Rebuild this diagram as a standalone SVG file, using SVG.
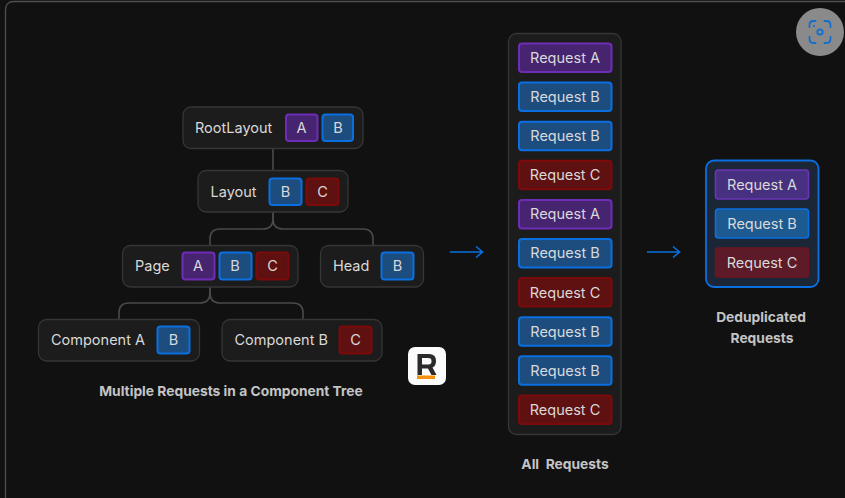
<svg xmlns="http://www.w3.org/2000/svg" width="845" height="498" viewBox="0 0 845 498">
<defs>
<style>
text{font-family:Inter,"Noto Sans","Liberation Sans",sans-serif;font-size:14.5px;fill:#d9d9d9}
.m{text-anchor:middle}
.cap{font-size:13.8px;font-weight:700;fill:#c4c4c4;text-anchor:middle}
.n{fill:#1c1c1c;stroke:#363636;stroke-width:1.3}
.a{fill:#47246f;stroke:#6f2cb8;stroke-width:2}
.b{fill:#1d4d7f;stroke:#0a6fe0;stroke-width:2}
.c{fill:#5f1010;stroke:#7d0a0a;stroke-width:2}
.wire{fill:none;stroke:#4a4a4a;stroke-width:1.6}
.arr{fill:none;stroke:#0a6fe0;stroke-width:1.6}
.da{fill:#46307f;stroke:#6b35b8;stroke-width:1.6}
.db{fill:#1e5a92;stroke:#0a6fe0;stroke-width:1.6}
.dc{fill:#5d1b2a;stroke:#6e1520;stroke-width:1.6}
</style>
</defs>
<rect width="845" height="498" fill="#111112"/>
<path d="M5.500 498V10Q5.500 1.500 14 1.500H845" fill="none" stroke="#4f4f4f" stroke-width="1.300"/>

<g id="connectors">
<path class="wire" d="M273 149V170"/>
<path class="wire" d="M273 212V219Q273 229 263 229H220Q210 229 210 239V245"/>
<path class="wire" d="M273 212V219Q273 229 283 229H363Q373 229 373 239V245"/>
<path class="wire" d="M210 287V293Q210 303 200 303H129Q119 303 119 313V319"/>
<path class="wire" d="M210 287V293Q210 303 220 303H293Q303 303 303 313V319"/>
<path class="arr" d="M450 252H482M476 246.500L482.500 252L476 257.500"/>
<path class="arr" d="M647 252H679M673 246.500L679.500 252L673 257.500"/>
</g>

<g id="node-rootlayout">
<rect class="n" x="183" y="107" width="180" height="41.500" rx="8"/>
<text x="195" y="133">RootLayout</text>
<rect class="a" x="286" y="114.500" width="31.500" height="26.500" rx="3"/><text class="m" x="301.500" y="133">A</text>
<rect class="b" x="322.500" y="114.500" width="30.500" height="26.500" rx="3"/><text class="m" x="338" y="133">B</text>
</g>
<g id="node-layout">
<rect class="n" x="198" y="170.500" width="150" height="41.500" rx="8"/>
<text x="210.500" y="197">Layout</text>
<rect class="b" x="269.500" y="178.500" width="32" height="26.500" rx="3"/><text class="m" x="285.500" y="197">B</text>
<rect class="c" x="306.500" y="178.500" width="32" height="26.500" rx="3"/><text class="m" x="322.500" y="197">C</text>
</g>
<g id="node-page">
<rect class="n" x="122.500" y="245.500" width="175.500" height="41.500" rx="8"/>
<text x="135" y="271">Page</text>
<rect class="a" x="182.500" y="252.500" width="32" height="27" rx="3"/><text class="m" x="198" y="271">A</text>
<rect class="b" x="219.500" y="252.500" width="32" height="27" rx="3"/><text class="m" x="235" y="271">B</text>
<rect class="c" x="256.500" y="252.500" width="32" height="27" rx="3"/><text class="m" x="272.500" y="271">C</text>
</g>
<g id="node-head">
<rect class="n" x="320.500" y="245.500" width="103" height="41.500" rx="8"/>
<text x="333" y="271">Head</text>
<rect class="b" x="381.500" y="252.500" width="32" height="27" rx="3"/><text class="m" x="397.500" y="271">B</text>
</g>
<g id="node-component-a">
<rect class="n" x="38.500" y="319.500" width="161" height="41.500" rx="8"/>
<text x="51" y="345">Component A</text>
<rect class="b" x="157.500" y="326.500" width="32" height="27" rx="3"/><text class="m" x="173.500" y="345">B</text>
</g>
<g id="node-component-b">
<rect class="n" x="222" y="319.500" width="160" height="41.500" rx="8"/>
<text x="234.500" y="345">Component B</text>
<rect class="c" x="339.500" y="326.500" width="32" height="27" rx="3"/><text class="m" x="355.500" y="345">C</text>
</g>
<text class="cap" x="231" y="396">Multiple Requests in a Component Tree</text>

<g id="logo">
<rect x="408" y="347" width="38" height="38" rx="7" fill="#fbfbfb"/>
<path d="M417.500 354H429Q436 354 436 361Q436 366 432.500 367.500L436.500 375H431.500L428 368.500H422V375H417.500ZM422 358V364.500H428.500Q431.500 364.500 431.500 361.200Q431.500 358 428.500 358Z" fill="#2a2a2c"/>
<rect x="417" y="375.500" width="18" height="3.500" fill="#f68f0a"/>
</g>

<g id="all-requests">
<rect class="n" x="508.500" y="33.500" width="112.500" height="401" rx="8"/>
<rect class="a" x="519" y="43.500" width="92.500" height="28.500" rx="3"/><text class="m" x="565" y="63">Request A</text>
<rect class="b" x="519" y="82.600" width="92.500" height="28.500" rx="3"/><text class="m" x="565" y="102">Request B</text>
<rect class="b" x="519" y="121.700" width="92.500" height="28.500" rx="3"/><text class="m" x="565" y="141">Request B</text>
<rect class="c" x="519" y="160.800" width="92.500" height="28.500" rx="3"/><text class="m" x="565" y="180">Request C</text>
<rect class="a" x="519" y="199.900" width="92.500" height="28.500" rx="3"/><text class="m" x="565" y="219">Request A</text>
<rect class="b" x="519" y="239" width="92.500" height="28.500" rx="3"/><text class="m" x="565" y="258">Request B</text>
<rect class="c" x="519" y="278.100" width="92.500" height="28.500" rx="3"/><text class="m" x="565" y="298">Request C</text>
<rect class="b" x="519" y="317.200" width="92.500" height="28.500" rx="3"/><text class="m" x="565" y="337">Request B</text>
<rect class="b" x="519" y="356.300" width="92.500" height="28.500" rx="3"/><text class="m" x="565" y="376">Request B</text>
<rect class="c" x="519" y="395.400" width="92.500" height="28.500" rx="3"/><text class="m" x="565" y="415">Request C</text>
</g>
<text class="cap" x="565" y="469" xml:space="preserve">All  Requests</text>

<g id="deduplicated">
<rect x="706" y="160.500" width="112.500" height="126.500" rx="8" fill="#1b2736" stroke="#0a6fe0" stroke-width="1.800"/>
<rect class="da" x="715.500" y="170" width="93" height="29" rx="3"/><text class="m" x="762" y="190">Request A</text>
<rect class="db" x="715.500" y="209" width="93" height="29" rx="3"/><text class="m" x="762" y="229">Request B</text>
<rect class="dc" x="715.500" y="248" width="93" height="29" rx="3"/><text class="m" x="762" y="268">Request C</text>
</g>
<text class="cap" x="761" y="322">Deduplicated</text>
<text class="cap" x="762" y="343">Requests</text>

<g id="camera">
<circle cx="820" cy="32" r="24" fill="#8a8a8a"/>
<path d="M809.500 27V25Q809.500 21 813.500 21H815.500M824.500 21H826.500Q830.500 21 830.500 25V27M830.500 37V39Q830.500 43 826.500 43H824.500M815.500 43H813.500Q809.500 43 809.500 39V37" fill="none" stroke="#0f6fd0" stroke-width="1.800" stroke-linecap="round"/>
<circle cx="820" cy="32" r="2.700" fill="none" stroke="#0f6fd0" stroke-width="1.800"/>
<circle cx="814" cy="26" r="1.100" fill="#0f6fd0"/>
</g>
</svg>
